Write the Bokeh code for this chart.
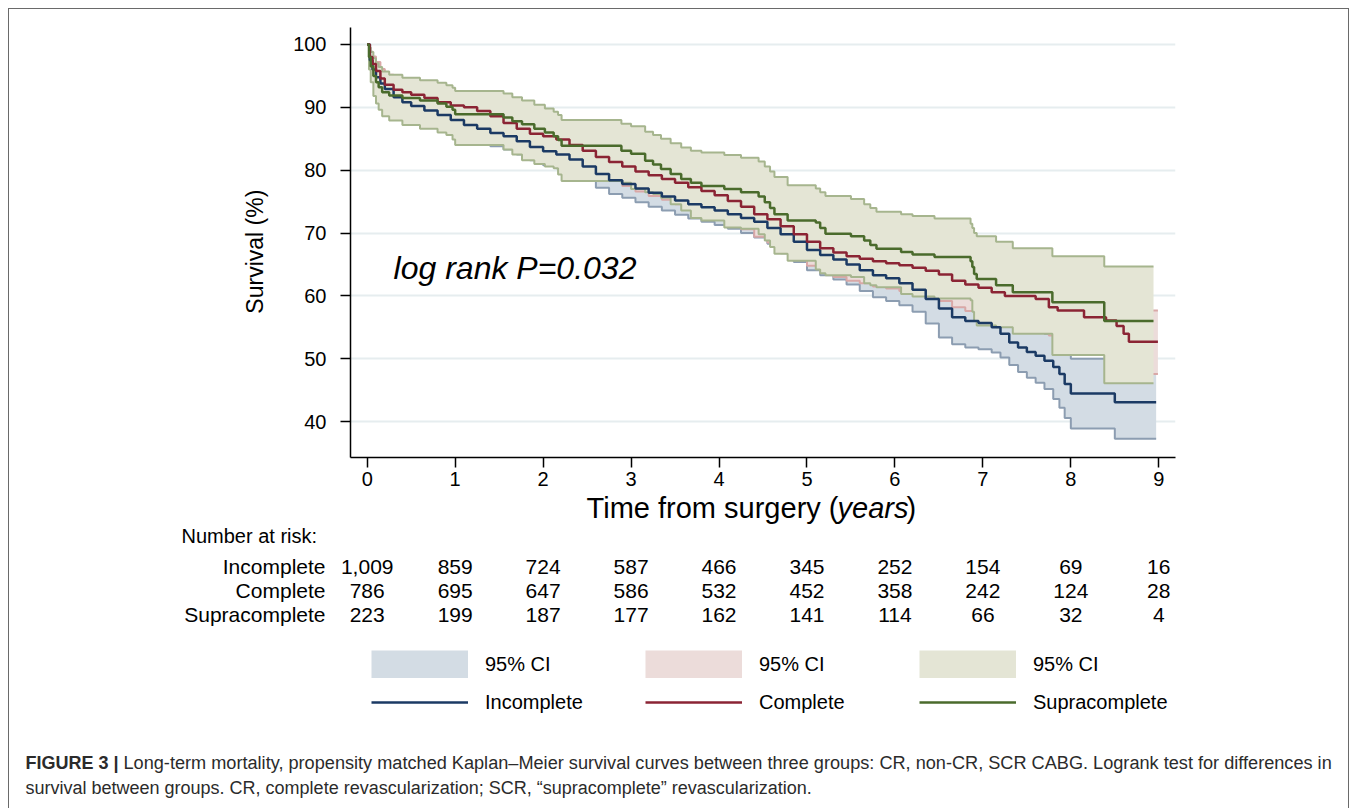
from math import pi
from bokeh.plotting import figure
from bokeh.layouts import column, row
from bokeh.models import Legend, LegendItem, Range1d, FixedTicker
from bokeh.core.properties import value
from bokeh.embed import file_html
from bokeh.resources import INLINE

FONT = "Liberation Sans"
NAN = float("nan")

# ---------------- data ----------------
x_ticks = [0, 1, 2, 3, 4, 5, 6, 7, 8, 9]
y_ticks = [40, 50, 60, 70, 80, 90, 100]

risk_years = [0, 1, 2, 3, 4, 5, 6, 7, 8, 9]
risk_incomplete = [1009, 859, 724, 587, 466, 345, 252, 154, 69, 16]
risk_complete = [786, 695, 647, 586, 532, 452, 358, 242, 124, 28]
risk_supra = [223, 199, 187, 177, 162, 141, 114, 66, 32, 4]

group_names = ["Incomplete", "Complete", "Supracomplete"]

# Incomplete revascularization (KM estimate + 95% CI)
inc_t = [0, 0.03, 0.06, 0.1, 0.15, 0.2, 0.3, 0.4, 0.5, 0.65, 0.8, 0.95, 1.1, 1.25, 1.4, 1.55, 1.7, 1.85,
         2.0, 2.15, 2.3, 2.45, 2.6, 2.75, 2.9, 3.05, 3.2, 3.35, 3.5, 3.65, 3.8, 3.95, 4.1, 4.25, 4.4, 4.55,
         4.7, 4.85, 5.0, 5.15, 5.3, 5.45, 5.6, 5.75, 5.9, 6.05, 6.2, 6.35, 6.5, 6.65, 6.8, 6.95, 7.1, 7.2,
         7.3, 7.4, 7.5, 7.6, 7.7, 7.8, 7.87, 7.93, 8.0, 8.5, 8.97]
inc_s = [100, 97.5, 96.0, 94.8, 93.8, 92.9, 91.6, 90.8, 90.2, 89.5, 88.8, 88.0, 87.2, 86.6, 85.9, 85.4, 84.6, 83.7,
         83.0, 82.5, 81.7, 80.6, 79.4, 78.4, 77.8, 77.1, 76.4, 75.8, 75.2, 74.6, 74.1, 73.6, 73.0, 72.4, 71.8, 70.8,
         69.8, 68.6, 67.3, 66.5, 65.8, 65.0, 64.1, 63.3, 62.8, 62.0, 61.0, 59.5, 58.0, 56.6, 56.0, 55.7, 55.0, 54.0,
         52.6, 51.8, 51.1, 50.5, 49.7, 48.7, 47.6, 46.0, 44.5, 43.1, 43.1]
inc_lo = [100, 96.5, 94.7, 93.4, 92.3, 91.3, 89.9, 89.0, 88.4, 87.6, 86.8, 85.9, 85.1, 84.5, 83.8, 83.3, 82.5, 81.6,
          80.8, 80.3, 79.5, 78.4, 77.2, 76.2, 75.6, 74.9, 74.2, 73.6, 72.9, 72.3, 71.8, 71.3, 70.7, 70.0, 69.3, 68.3,
          66.8, 65.4, 64.1, 63.3, 62.6, 61.8, 60.8, 59.8, 59.2, 58.5, 57.5, 55.6, 53.4, 52.3, 51.8, 51.5, 51.0, 50.2,
          49.0, 47.9, 47.0, 46.2, 45.2, 43.6, 42.2, 40.6, 38.9, 37.3, 37.3]
inc_hi = [100, 98.4, 97.2, 96.1, 95.2, 94.4, 93.2, 92.5, 91.9, 91.3, 90.6, 89.9, 89.2, 88.6, 87.9, 87.4, 86.7, 85.8,
          85.1, 84.6, 83.8, 82.8, 81.6, 80.6, 80.0, 79.3, 78.6, 78.0, 77.4, 76.9, 76.4, 75.9, 75.3, 74.7, 74.2, 73.3,
          72.3, 71.3, 70.0, 69.3, 68.8, 68.1, 67.2, 66.6, 66.2, 65.4, 64.5, 63.2, 61.7, 60.4, 59.8, 59.5, 58.9, 57.9,
          56.6, 55.8, 55.2, 54.6, 54.0, 53.0, 52.2, 51.0, 50.0, 48.6, 48.6]

# Complete revascularization
comp_t = [0, 0.03, 0.06, 0.1, 0.15, 0.2, 0.3, 0.4, 0.5, 0.65, 0.8, 0.95, 1.1, 1.25, 1.4, 1.55, 1.7, 1.85,
          2.0, 2.15, 2.3, 2.45, 2.6, 2.75, 2.9, 3.05, 3.2, 3.35, 3.5, 3.65, 3.8, 3.95, 4.1, 4.25, 4.4, 4.55,
          4.7, 4.85, 5.0, 5.15, 5.3, 5.45, 5.6, 5.75, 5.9, 6.05, 6.2, 6.35, 6.5, 6.65, 6.8, 6.95,
          7.1, 7.25, 7.6, 7.75, 7.85, 8.15, 8.4, 8.52, 8.6, 8.66, 8.99]
comp_s = [100, 98.0, 96.9, 95.8, 94.6, 93.6, 92.8, 92.4, 92.0, 91.5, 90.8, 90.3, 90.0, 89.4, 88.6, 87.5, 86.6, 85.8,
          85.4, 84.9, 84.0, 83.1, 82.1, 81.3, 80.6, 79.8, 79.2, 78.6, 78.0, 77.3, 76.7, 76.0, 75.1, 74.2, 73.0, 72.2,
          71.1, 69.8, 68.6, 67.6, 66.9, 66.3, 65.9, 65.5, 65.2, 64.9, 64.5, 64.0, 63.4, 62.4, 61.8, 61.3,
          60.6, 60.0, 59.5, 58.2, 57.7, 56.6, 56.1, 55.2, 54.0, 52.7, 52.7]
comp_lo = [100, 97.0, 95.6, 94.3, 93.0, 91.9, 91.0, 90.5, 90.0, 89.5, 88.7, 88.2, 87.9, 87.2, 86.4, 85.2, 84.2, 83.3,
           82.9, 82.3, 81.3, 80.3, 79.2, 78.3, 77.5, 76.6, 75.9, 75.3, 74.6, 73.9, 73.2, 72.5, 71.6, 70.6, 69.4, 68.5,
           67.4, 66.0, 64.8, 63.8, 63.0, 62.4, 62.0, 61.5, 61.2, 60.8, 60.4, 59.9, 59.2, 58.2, 57.6, 57.0,
           56.3, 55.6, 55.0, 53.7, 53.1, 52.0, 51.4, 50.4, 49.1, 47.6, 47.6]
comp_hi = [100, 98.9, 98.1, 97.2, 96.1, 95.2, 94.5, 94.2, 93.8, 93.4, 92.8, 92.3, 92.0, 91.5, 90.7, 89.7, 88.9, 88.1,
           87.7, 87.3, 86.5, 85.7, 84.8, 84.1, 83.5, 82.8, 82.3, 81.7, 81.2, 80.5, 80.0, 79.4, 78.5, 77.7, 76.5, 75.7,
           74.7, 73.4, 72.3, 71.3, 70.7, 70.1, 69.7, 69.4, 69.1, 68.8, 68.5, 68.0, 67.5, 66.5, 65.9, 65.5,
           64.8, 64.3, 63.8, 62.6, 62.1, 61.1, 60.6, 59.8, 58.7, 57.7, 57.7]

# Supracomplete revascularization
sup_t = [0, 0.02, 0.04, 0.07, 0.1, 0.13, 0.17, 0.25, 0.4, 0.6, 0.8, 0.9, 0.97, 1.0, 1.55, 1.65, 1.76, 1.9,
         2.02, 2.12, 2.17, 2.21, 2.89, 3.0, 3.16, 3.25, 3.34, 3.45, 3.57, 3.68, 3.80, 4.06, 4.25, 4.45, 4.52,
         4.58, 4.63, 4.78, 5.10, 5.15, 5.21, 5.50, 5.65, 5.72, 5.79, 6.07, 6.2, 6.45, 6.86, 6.88, 6.90, 6.93,
         7.15, 7.34, 7.79, 8.38, 8.94]
sup_s = [100, 98.0, 96.5, 95.0, 94.0, 93.2, 92.4, 91.9, 91.5, 91.1, 90.6, 90.1, 89.6, 88.9, 88.4, 87.8, 87.3, 86.6,
         86.0, 85.4, 84.8, 83.9, 83.1, 82.6, 81.5, 80.9, 80.2, 79.4, 78.6, 78.0, 77.5, 77.0, 76.5, 75.8, 74.9,
         74.0, 73.0, 72.0, 71.7, 70.8, 69.9, 69.5, 68.8, 68.1, 67.5, 67.0, 66.6, 66.2, 65.5, 64.6, 63.5, 62.7,
         61.7, 60.6, 59.0, 56.0, 56.0]
sup_lo = [100, 96.0, 94.0, 91.8, 90.6, 89.6, 88.6, 87.9, 87.2, 86.6, 86.0, 85.6, 84.9, 84.0, 83.3, 82.5, 81.6, 81.0,
          80.6, 80.3, 79.3, 78.3, 78.0, 77.0, 76.5, 76.2, 75.6, 74.6, 73.6, 72.4, 72.0, 70.9, 70.7, 69.8, 68.8,
          67.8, 66.7, 65.6, 64.2, 63.6, 63.3, 63.0, 62.0, 61.7, 61.4, 60.3, 59.9, 59.6, 59.3, 57.5, 56.0, 55.3,
          55.0, 54.0, 50.6, 46.1, 46.1]
sup_hi = [100, 99.5, 98.8, 97.8, 97.0, 96.4, 95.7, 95.2, 94.7, 94.3, 93.9, 93.5, 93.1, 92.6, 92.2, 91.6, 91.1, 90.4,
          89.8, 89.3, 88.8, 88.0, 87.4, 87.0, 86.1, 85.6, 85.0, 84.3, 83.6, 83.1, 82.8, 82.4, 82.0, 81.4, 80.6,
          79.8, 78.9, 77.6, 77.1, 76.5, 75.9, 75.4, 74.6, 74.0, 73.4, 73.0, 72.7, 72.3, 71.5, 70.8, 70.0, 69.5,
          68.6, 67.6, 66.3, 64.7, 64.7]

# ---------------- layout geometry (page pixels) ----------------
PAGE_W, PAGE_H = 1357, 808
FL, FR, FT, FB = 350, 1175, 27, 457   # plot frame edges
XR = (-0.19, 9.19)
YR = (34.3, 102.7)
LEFT_W = 280                          # strip holding the y-axis title
TOP_H = 493                           # height of the plot row


def X(px):
    """page pixel -> years (same mapping as the plot frame)"""
    return XR[0] + (px - FL) * (XR[1] - XR[0]) / (FR - FL)


FILL = {"Incomplete": "#d3dce4", "Complete": "#ecdcda", "Supracomplete": "#e4e5d5"}
EDGE = {"Incomplete": "#8c9db1", "Complete": "#d9a8a7", "Supracomplete": "#a6b58e"}
LINE = {"Incomplete": "#1b3a64", "Complete": "#8b2434", "Supracomplete": "#4a6b2c"}

# ---------------- left strip: y-axis title ----------------
pl = figure(width=LEFT_W, height=TOP_H, output_backend="svg", toolbar_location=None,
            x_range=Range1d(0, LEFT_W), y_range=Range1d(TOP_H, 0),
            min_border=0, x_axis_location=None, y_axis_location=None)
pl.grid.visible = False
pl.outline_line_color = None
pl.background_fill_color = None
pl.border_fill_color = None
pl.text(x=[254], y=[257], text=["Survival (%)"], angle=pi / 2, text_align="center", text_baseline="middle",
        text_font=value(FONT), text_font_size="23px", text_color="black")

# ---------------- main KM plot ----------------
p = figure(width=PAGE_W - LEFT_W, height=TOP_H, output_backend="svg", toolbar_location=None,
           x_range=Range1d(*XR), y_range=Range1d(*YR),
           min_border_left=FL - LEFT_W, min_border_right=PAGE_W - FR,
           min_border_top=FT, min_border_bottom=TOP_H - FB)
p.outline_line_color = None
p.background_fill_color = None
p.border_fill_color = None

for ax in (p.xaxis[0], p.yaxis[0]):
    ax.axis_line_color = "black"
    ax.axis_line_width = 1.5
    ax.major_tick_line_color = "black"
    ax.major_tick_line_width = 1.5
    ax.major_tick_in = 0
    ax.major_tick_out = 10
    ax.minor_tick_line_color = None
    ax.major_label_text_font = FONT
    ax.major_label_text_font_size = "20px"
    ax.major_label_text_color = "black"
p.xaxis.ticker = FixedTicker(ticks=x_ticks)
p.yaxis.ticker = FixedTicker(ticks=y_ticks)
p.xaxis.major_label_standoff = 4
p.yaxis.major_label_standoff = 14
p.xgrid.grid_line_color = None
p.ygrid.ticker = FixedTicker(ticks=y_ticks)
p.ygrid.grid_line_color = "#e6edef"
p.ygrid.grid_line_width = 2

groups = [
    ("Incomplete", inc_t, inc_s, inc_lo, inc_hi),
    ("Complete", comp_t, comp_s, comp_lo, comp_hi),
    ("Supracomplete", sup_t, sup_s, sup_lo, sup_hi),
]
for name, t, s, lo, hi in groups:
    p.varea_step(x=t, y1=lo, y2=hi, step_mode="after", fill_color=FILL[name])
    p.step(t, lo, mode="after", line_color=EDGE[name], line_width=2)
    p.step(t, hi, mode="after", line_color=EDGE[name], line_width=2)
for name, t, s, lo, hi in groups:
    p.step(t, s, mode="after", line_color=LINE[name], line_width=2.5)

p.text(x=[0.30], y=[64.4], text=["log rank P=0.032"], text_align="left", text_baseline="middle",
       text_font=value(FONT), text_font_style="italic", text_font_size="32px", text_color="black")

# ---------------- bottom panel: axis title, risk table, legend, caption ----------------
BOT_H = PAGE_H - TOP_H
pb = figure(width=PAGE_W, height=BOT_H, output_backend="svg", toolbar_location=None,
            x_range=Range1d(X(0), X(PAGE_W)), y_range=Range1d(PAGE_H, TOP_H),
            min_border=0, x_axis_location=None, y_axis_location=None)
pb.grid.visible = False
pb.outline_line_color = None
pb.background_fill_color = None
pb.border_fill_color = None

TXT = dict(text_font=value(FONT), text_color="black", text_baseline="middle")

# x-axis title with italic "years"
pb.text(x=[X(838)], y=[507], text=["Time from surgery ("], text_align="right", text_font_size="29px", **TXT)
pb.text(x=[X(837)], y=[507], text=["years"], text_align="left", text_font_style="italic",
        text_font_size="29px", **TXT)
pb.text(x=[X(906)], y=[507], text=[")"], text_align="left", text_font_size="29px", **TXT)

# number at risk
pb.text(x=[X(181)], y=[535], text=["Number at risk:"], text_align="left", text_font_size="20px", **TXT)
row_y = [566, 590, 614]
for name, counts, ry in zip(group_names, [risk_incomplete, risk_complete, risk_supra], row_y):
    pb.text(x=[X(325)], y=[ry], text=[name], text_align="right", text_font_size="21px", **TXT)
    pb.text(x=risk_years, y=[ry] * len(risk_years), text=[f"{c:,}" for c in counts],
            text_align="center", text_font_size="21px", **TXT)

# legend (proxy glyphs that draw nothing in the panel itself);
# the CI swatch is a 28px-thick butt-capped line so it fills the whole glyph box
items = []
for name in group_names:
    band = pb.line(x=[NAN], y=[NAN], line_color=FILL[name], line_width=28, line_cap="butt")
    ln = pb.line(x=[NAN], y=[NAN], line_color=LINE[name], line_width=2.5)
    items.append(LegendItem(label="95% CI", renderers=[band]))
    items.append(LegendItem(label=name, renderers=[ln]))
legend = Legend(items=items, location=(371, PAGE_H - 716), orientation="vertical", ncols=3,
                glyph_width=97, glyph_height=28, label_standoff=17, spacing=10, label_width=150,
                padding=0, margin=0, border_line_color=None, background_fill_alpha=0,
                label_text_font=FONT, label_text_font_size="20px", label_text_color="black")
pb.add_layout(legend, "center")

# caption
CAP = dict(text_font=value(FONT), text_color="#2b2b2b", text_baseline="middle", text_align="left",
           text_font_size="18px")
pb.text(x=[X(25)], y=[762], text=["FIGURE 3 |"], text_font_style="bold", **CAP)
pb.text(x=[X(123)], y=[762],
        text=["Long-term mortality, propensity matched Kaplan\u2013Meier survival curves between three groups: "
              "CR, non-CR, SCR CABG. Logrank test for differences in"], text_font_size="18.15px",
        **{k: v for k, v in CAP.items() if k != "text_font_size"})
pb.text(x=[X(25)], y=[787],
        text=["survival between groups. CR, complete revascularization; SCR, \u201csupracomplete\u201d "
              "revascularization."], **CAP)

# outer frame of the figure panel (drawn as the page container's background)
BOX = "linear-gradient(#6a6a6a, #6a6a6a)"
layout = column(row(pl, p), pb, styles={
    "background-image": ", ".join([BOX] * 3),
    "background-size": "1px 820px, 1px 820px, 1341px 1px",
    "background-position": "8px 8px, 1348px 8px, 8px 8px",
    "background-repeat": "no-repeat",
})

open("out.html", "w").write(file_html(layout, INLINE))
